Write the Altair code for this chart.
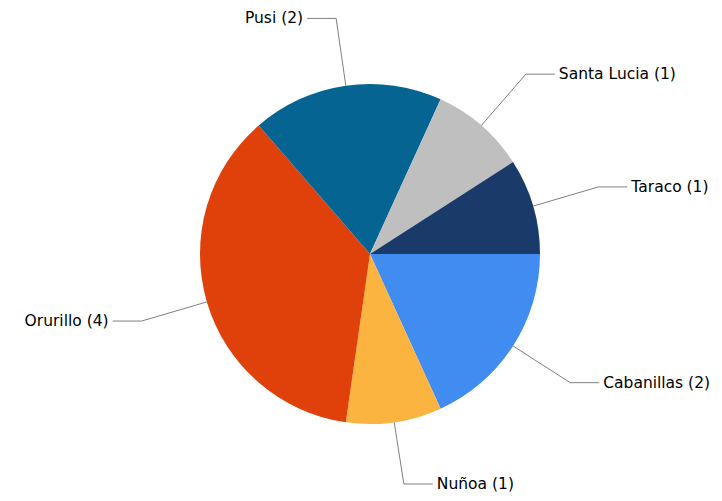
import math
import altair as alt
import pandas as pd

names = ["Cabanillas", "Nuñoa", "Orurillo", "Pusi", "Santa Lucia", "Taraco"]
counts = [2, 1, 4, 2, 1, 1]
colors = ["#418CF0", "#FCB441", "#E0400A", "#056492", "#BFBFBF", "#1A3B69"]

W, H = 706, 485
CX, CY = 362, 246
R, R2, HL, GAP = 170, 238, 29, 4
FS = 15.5

pie_df = pd.DataFrame({"name": names, "count": counts, "idx": list(range(len(names)))})
pie_df["label"] = [f"{n} ({c})" for n, c in zip(names, counts)]

total = sum(counts)
line_rows, text_rows = [], []
cum = 0
for n, c, lab in zip(names, counts, pie_df["label"]):
    mid = (cum + c / 2) / total * 2 * math.pi
    cum += c
    dx, dy = math.cos(mid), math.sin(mid)
    side = 1 if dx >= 0 else -1
    ex, ey = CX + R * dx, CY + R * dy
    bx, by = CX + R2 * dx, CY + R2 * dy
    by = min(by, H - 9)
    tx = bx + side * HL
    for k, (px, py) in enumerate([(ex, ey), (bx, by), (tx, by)]):
        line_rows.append({"name": n, "k": k, "px": px, "py": py})
    text_rows.append({"label": lab, "px": tx + side * GAP, "py": by, "side": "R" if side > 0 else "L"})

line_df = pd.DataFrame(line_rows)
text_df = pd.DataFrame(text_rows)

xs = alt.Scale(domain=[0, W], nice=False, zero=False)
ys = alt.Scale(domain=[H, 0], nice=False, zero=False)

pie = alt.Chart(pie_df).mark_arc(outerRadius=R, stroke=None).encode(
    theta=alt.Theta("count:Q", stack=True,
                    scale=alt.Scale(range=[math.pi / 2, math.pi / 2 + 2 * math.pi])),
    order=alt.Order("idx:Q", sort="ascending"),
    color=alt.Color("name:N", scale=alt.Scale(domain=names, range=colors), legend=None),
    x=alt.value(CX),
    y=alt.value(CY),
)

lines = alt.Chart(line_df).mark_line(color="#7f7f7f", strokeWidth=1).encode(
    x=alt.X("px:Q", scale=xs, axis=None),
    y=alt.Y("py:Q", scale=ys, axis=None),
    detail="name:N",
    order="k:Q",
)

txt_r = alt.Chart(text_df[text_df.side == "R"]).mark_text(
    align="left", baseline="middle", font="DejaVu Sans", fontSize=FS, color="#000000"
).encode(x=alt.X("px:Q", scale=xs, axis=None), y=alt.Y("py:Q", scale=ys, axis=None), text="label:N")

txt_l = alt.Chart(text_df[text_df.side == "L"]).mark_text(
    align="right", baseline="middle", font="DejaVu Sans", fontSize=FS, color="#000000"
).encode(x=alt.X("px:Q", scale=xs, axis=None), y=alt.Y("py:Q", scale=ys, axis=None), text="label:N")

chart = alt.layer(pie, lines, txt_r, txt_l).properties(
    width=W, height=H, autosize=alt.AutoSizeParams(type="none"), padding=0
).configure_view(stroke=None).resolve_scale(x="shared", y="shared")

chart.save("out.html", embed_options={"renderer": "svg", "actions": False})
